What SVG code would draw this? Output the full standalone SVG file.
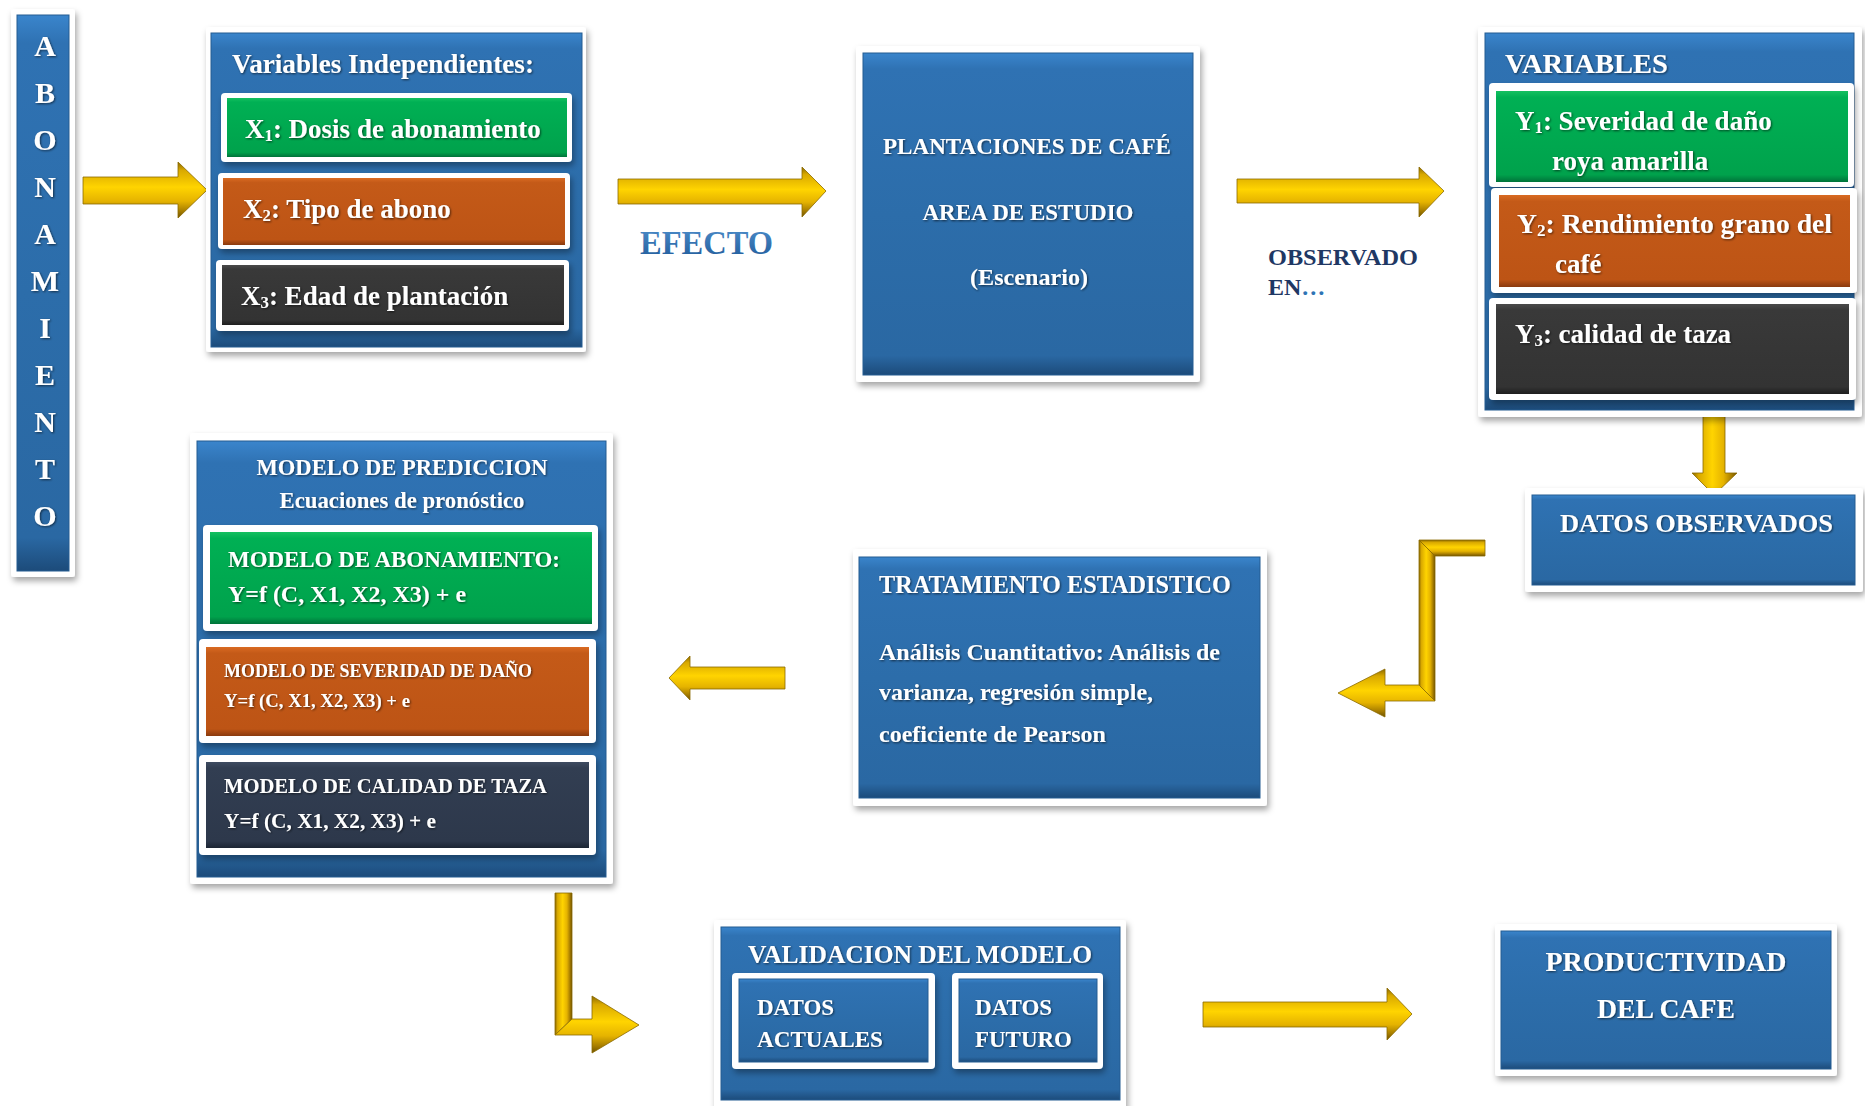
<svg xmlns="http://www.w3.org/2000/svg" width="1865" height="1106" viewBox="0 0 1865 1106">
<defs>
<filter id="sh" x="-10%" y="-10%" width="125%" height="125%"><feDropShadow dx="2" dy="4" stdDeviation="3" flood-color="#000" flood-opacity="0.35"/></filter>
<filter id="ts" x="-5%" y="-20%" width="110%" height="150%"><feDropShadow dx="1" dy="1" stdDeviation="0.8" flood-color="#000" flood-opacity="0.6"/></filter>
<linearGradient id="gBlue" x1="0" y1="0" x2="0" y2="1"><stop offset="0" stop-color="#3A85CC"/><stop offset="0.05" stop-color="#2F72B3"/><stop offset="0.5" stop-color="#2C6DAA"/><stop offset="0.94" stop-color="#2A68A3"/><stop offset="1" stop-color="#1C4B7A"/></linearGradient>
<linearGradient id="gGreen" x1="0" y1="0" x2="0" y2="1"><stop offset="0" stop-color="#14C060"/><stop offset="0.07" stop-color="#00B054"/><stop offset="0.92" stop-color="#00A24C"/><stop offset="1" stop-color="#00733A"/></linearGradient>
<linearGradient id="gOrange" x1="0" y1="0" x2="0" y2="1"><stop offset="0" stop-color="#D96A22"/><stop offset="0.07" stop-color="#C45A18"/><stop offset="0.92" stop-color="#BD5415"/><stop offset="1" stop-color="#8A3A0E"/></linearGradient>
<linearGradient id="gDark" x1="0" y1="0" x2="0" y2="1"><stop offset="0" stop-color="#4A4A4A"/><stop offset="0.07" stop-color="#393939"/><stop offset="0.92" stop-color="#333333"/><stop offset="1" stop-color="#1E1E1E"/></linearGradient>
<linearGradient id="gNavy" x1="0" y1="0" x2="0" y2="1"><stop offset="0" stop-color="#3E4B61"/><stop offset="0.07" stop-color="#323E52"/><stop offset="0.92" stop-color="#2D384B"/><stop offset="1" stop-color="#1C2533"/></linearGradient>
<linearGradient id="goldV" x1="0" y1="0" x2="0" y2="1"><stop offset="0" stop-color="#8C6A00"/><stop offset="0.15" stop-color="#D9A900"/><stop offset="0.45" stop-color="#FFD400"/><stop offset="0.7" stop-color="#E5B300"/><stop offset="0.88" stop-color="#A67C00"/><stop offset="1" stop-color="#6E5200"/></linearGradient>
<linearGradient id="goldH" x1="0" y1="0" x2="1" y2="0"><stop offset="0" stop-color="#8C6A00"/><stop offset="0.15" stop-color="#D9A900"/><stop offset="0.45" stop-color="#FFD400"/><stop offset="0.7" stop-color="#E5B300"/><stop offset="0.88" stop-color="#A67C00"/><stop offset="1" stop-color="#6E5200"/></linearGradient>
<linearGradient id="gEfecto" x1="0" y1="0" x2="0" y2="1"><stop offset="0" stop-color="#4F8FCC"/><stop offset="1" stop-color="#1F5A99"/></linearGradient>
</defs>
<style>
.frame{fill:#fff;filter:url(#sh)}
.blue{fill:url(#gBlue);stroke:#245C92;stroke-width:1}
.green{fill:url(#gGreen)}
.orange{fill:url(#gOrange)}
.dark{fill:url(#gDark)}
.navy{fill:url(#gNavy)}
.t{font-family:"Liberation Serif","Times New Roman",serif;font-weight:bold;fill:#fff;filter:url(#ts)}
.gv{fill:url(#goldV);stroke:#8A6A00;stroke-width:0.8}
.gh{fill:url(#goldH);stroke:#8A6A00;stroke-width:0.8}
.sub{font-size:62%}
</style>
<rect width="1865" height="1106" fill="#fff"/>

<g id="connectors">
  <polygon id="c1" class="gv" points="83,177 178,177 178,162 207,190 178,218 178,204 83,204"/>
  <polygon id="c2" class="gv" points="618,179 802,179 802,167 826,191 802,217 802,204 618,204"/>
  <polygon id="c3" class="gv" points="1237,179 1419,179 1419,167 1444,191 1419,217 1419,203 1237,203"/>
  <polygon id="c4" class="gh" points="1703,411 1725,411 1725,473 1737,473 1714,495 1692,473 1703,473"/>
  <g id="c5">
    <polygon class="gv" points="1419,540 1485,540 1485,556 1435,556"/>
    <polygon class="gh" points="1419,540 1435,556 1435,701 1419,685"/>
    <polygon class="gv" points="1435,701 1385,701 1385,717 1338,693 1385,669 1385,685 1419,685"/>
  </g>
  <polygon id="c6" class="gv" points="785,667 690,667 690,656 669,678 690,700 690,689 785,689"/>
  <g id="c7">
    <polygon class="gh" points="555,893 572,893 572,1019 555,1035"/>
    <polygon class="gv" points="555,1035 572,1019 592,1019 592,996 639,1025 592,1053 592,1035"/>
  </g>
  <polygon id="c8" class="gv" points="1203,1002 1387,1002 1387,988 1412,1014 1387,1040 1387,1027 1203,1027"/>
</g>

<g id="abonamiento">
  <rect class="frame" x="11" y="9" width="64" height="568" rx="3"/>
  <rect class="blue" x="17" y="15" width="52" height="556"/>
  <g class="t" font-size="30" text-anchor="middle">
    <text x="45" y="56">A</text><text x="45" y="103">B</text><text x="45" y="150">O</text>
    <text x="45" y="197">N</text><text x="45" y="244">A</text><text x="45" y="291">M</text>
    <text x="45" y="338">I</text><text x="45" y="385">E</text><text x="45" y="432">N</text>
    <text x="45" y="479">T</text><text x="45" y="526">O</text>
  </g>
</g>

<g id="var-independientes">
  <rect class="frame" x="206" y="27" width="380" height="325" rx="3"/>
  <rect class="blue" x="211" y="33" width="371" height="314"/>
  <text class="t" x="232" y="73" font-size="27" textLength="302" lengthAdjust="spacingAndGlyphs">Variables Independientes:</text>
  <g id="x1">
    <rect class="frame" x="221" y="93" width="351" height="69" rx="4"/>
    <rect class="green" x="227" y="98" width="340" height="59"/>
    <text class="t" x="245" y="138" font-size="27">X<tspan class="sub" baseline-shift="-3">1</tspan>: Dosis de abonamiento</text>
  </g>
  <g id="x2">
    <rect class="frame" x="218" y="173" width="352" height="76" rx="4"/>
    <rect class="orange" x="223" y="178" width="342" height="67"/>
    <text class="t" x="243" y="218" font-size="27">X<tspan class="sub" baseline-shift="-3">2</tspan>: Tipo de abono</text>
  </g>
  <g id="x3">
    <rect class="frame" x="216" y="260" width="353" height="71" rx="4"/>
    <rect class="dark" x="222" y="265" width="342" height="60"/>
    <text class="t" x="241" y="305" font-size="27">X<tspan class="sub" baseline-shift="-3">3</tspan>: Edad de plantación</text>
  </g>
</g>

<g id="efecto-label">
  <text x="640" y="254" font-family="Liberation Serif, Times New Roman, serif" font-weight="bold" font-size="33" fill="url(#gEfecto)" textLength="133" lengthAdjust="spacingAndGlyphs">EFECTO</text>
</g>

<g id="plantaciones">
  <rect class="frame" x="856" y="46" width="344" height="336" rx="3"/>
  <rect class="blue" x="863" y="53" width="330" height="322"/>
  <g class="t" font-size="24" text-anchor="middle">
    <text x="1027" y="154" textLength="288" lengthAdjust="spacingAndGlyphs">PLANTACIONES DE CAFÉ</text>
    <text x="1028" y="220" textLength="211" lengthAdjust="spacingAndGlyphs">AREA DE ESTUDIO</text>
    <text x="1029" y="285" textLength="118" lengthAdjust="spacingAndGlyphs">(Escenario)</text>
  </g>
</g>

<g id="observado-label" font-family="Liberation Serif, Times New Roman, serif" font-weight="bold" font-size="24" fill="#1F3864">
  <text x="1268" y="265" textLength="150" lengthAdjust="spacingAndGlyphs">OBSERVADO</text>
  <text x="1268" y="295">EN<tspan fill="#2E74B5">…</tspan></text>
</g>

<g id="variables">
  <rect class="frame" x="1478" y="27" width="384" height="390" rx="3"/>
  <rect class="blue" x="1485" y="33" width="369" height="377"/>
  <text class="t" x="1505" y="73" font-size="28" textLength="163" lengthAdjust="spacingAndGlyphs">VARIABLES</text>
  <g id="y1">
    <rect class="frame" x="1489" y="83" width="365" height="104" rx="4"/>
    <rect class="green" x="1496" y="91" width="352" height="91"/>
    <text class="t" x="1515" y="130" font-size="27">Y<tspan class="sub" baseline-shift="-3">1</tspan>: Severidad de daño</text>
    <text class="t" x="1552" y="170" font-size="27">roya amarilla</text>
  </g>
  <g id="y2">
    <rect class="frame" x="1491" y="188" width="366" height="105" rx="4"/>
    <rect class="orange" x="1499" y="195" width="351" height="92"/>
    <text class="t" x="1517" y="233" font-size="27" textLength="315" lengthAdjust="spacingAndGlyphs">Y<tspan class="sub" baseline-shift="-3">2</tspan>: Rendimiento grano del</text>
    <text class="t" x="1555" y="273" font-size="27">café</text>
  </g>
  <g id="y3">
    <rect class="frame" x="1489" y="298" width="367" height="102" rx="4"/>
    <rect class="dark" x="1496" y="304" width="353" height="90"/>
    <text class="t" x="1515" y="343" font-size="27">Y<tspan class="sub" baseline-shift="-3">3</tspan>: calidad de taza</text>
  </g>
</g>

<g id="datos-observados">
  <rect class="frame" x="1525" y="488" width="338" height="104" rx="3"/>
  <rect class="blue" x="1532" y="495" width="323" height="90"/>
  <text class="t" x="1560" y="532" font-size="26" textLength="273" lengthAdjust="spacingAndGlyphs">DATOS OBSERVADOS</text>
</g>

<g id="tratamiento">
  <rect class="frame" x="853" y="549" width="414" height="257" rx="3"/>
  <rect class="blue" x="859" y="557" width="401" height="241"/>
  <text class="t" x="879" y="593" font-size="25" textLength="352" lengthAdjust="spacingAndGlyphs">TRATAMIENTO ESTADISTICO</text>
  <text class="t" x="879" y="660" font-size="24" textLength="341" lengthAdjust="spacingAndGlyphs">Análisis Cuantitativo: Análisis de</text>
  <text class="t" x="879" y="700" font-size="24" textLength="274" lengthAdjust="spacingAndGlyphs">varianza, regresión simple,</text>
  <text class="t" x="879" y="742" font-size="24" textLength="227" lengthAdjust="spacingAndGlyphs">coeficiente de Pearson</text>
</g>

<g id="modelo-prediccion">
  <rect class="frame" x="190" y="433" width="423" height="451" rx="3"/>
  <rect class="blue" x="197" y="441" width="409" height="436"/>
  <text class="t" x="402" y="475" font-size="24" text-anchor="middle" textLength="291" lengthAdjust="spacingAndGlyphs">MODELO DE PREDICCION</text>
  <text class="t" x="402" y="508" font-size="23" text-anchor="middle" textLength="245" lengthAdjust="spacingAndGlyphs">Ecuaciones de pronóstico</text>
  <g id="modelo-abonamiento">
    <rect class="frame" x="203" y="525" width="395" height="106" rx="4"/>
    <rect class="green" x="210" y="532" width="382" height="92"/>
    <text class="t" x="228" y="567" font-size="23" textLength="332" lengthAdjust="spacingAndGlyphs">MODELO DE ABONAMIENTO:</text>
    <text class="t" x="228" y="602" font-size="24" textLength="238" lengthAdjust="spacingAndGlyphs">Y=f (C, X1, X2, X3) + e</text>
  </g>
  <g id="modelo-severidad">
    <rect class="frame" x="199" y="639" width="397" height="104" rx="4"/>
    <rect class="orange" x="206" y="647" width="383" height="89"/>
    <text class="t" x="224" y="677" font-size="19" textLength="308" lengthAdjust="spacingAndGlyphs">MODELO DE SEVERIDAD DE DAÑO</text>
    <text class="t" x="224" y="707" font-size="19" textLength="186" lengthAdjust="spacingAndGlyphs">Y=f (C, X1, X2, X3) + e</text>
  </g>
  <g id="modelo-calidad">
    <rect class="frame" x="199" y="755" width="397" height="100" rx="4"/>
    <rect class="navy" x="206" y="762" width="383" height="86"/>
    <text class="t" x="224" y="793" font-size="21" textLength="323" lengthAdjust="spacingAndGlyphs">MODELO DE CALIDAD DE TAZA</text>
    <text class="t" x="224" y="828" font-size="21" textLength="212" lengthAdjust="spacingAndGlyphs">Y=f (C, X1, X2, X3) + e</text>
  </g>
</g>

<g id="validacion">
  <rect class="frame" x="714" y="920" width="412" height="192" rx="3"/>
  <rect class="blue" x="721" y="927" width="399" height="173"/>
  <text class="t" x="748" y="963" font-size="25" textLength="344" lengthAdjust="spacingAndGlyphs">VALIDACION DEL MODELO</text>
  <g id="datos-actuales">
    <rect class="frame" x="732" y="973" width="203" height="96" rx="4"/>
    <rect class="blue" x="739" y="979" width="189" height="83"/>
    <text class="t" x="757" y="1015" font-size="23">DATOS</text>
    <text class="t" x="757" y="1047" font-size="23" textLength="126" lengthAdjust="spacingAndGlyphs">ACTUALES</text>
  </g>
  <g id="datos-futuro">
    <rect class="frame" x="952" y="973" width="151" height="96" rx="4"/>
    <rect class="blue" x="959" y="979" width="138" height="83"/>
    <text class="t" x="975" y="1015" font-size="23">DATOS</text>
    <text class="t" x="975" y="1047" font-size="23" textLength="97" lengthAdjust="spacingAndGlyphs">FUTURO</text>
  </g>
</g>

<g id="productividad">
  <rect class="frame" x="1495" y="924" width="342" height="152" rx="3"/>
  <rect class="blue" x="1501" y="931" width="330" height="138"/>
  <text class="t" x="1666" y="971" font-size="28" text-anchor="middle" textLength="241" lengthAdjust="spacingAndGlyphs">PRODUCTIVIDAD</text>
  <text class="t" x="1666" y="1018" font-size="28" text-anchor="middle" textLength="138" lengthAdjust="spacingAndGlyphs">DEL CAFE</text>
</g>
</svg>
